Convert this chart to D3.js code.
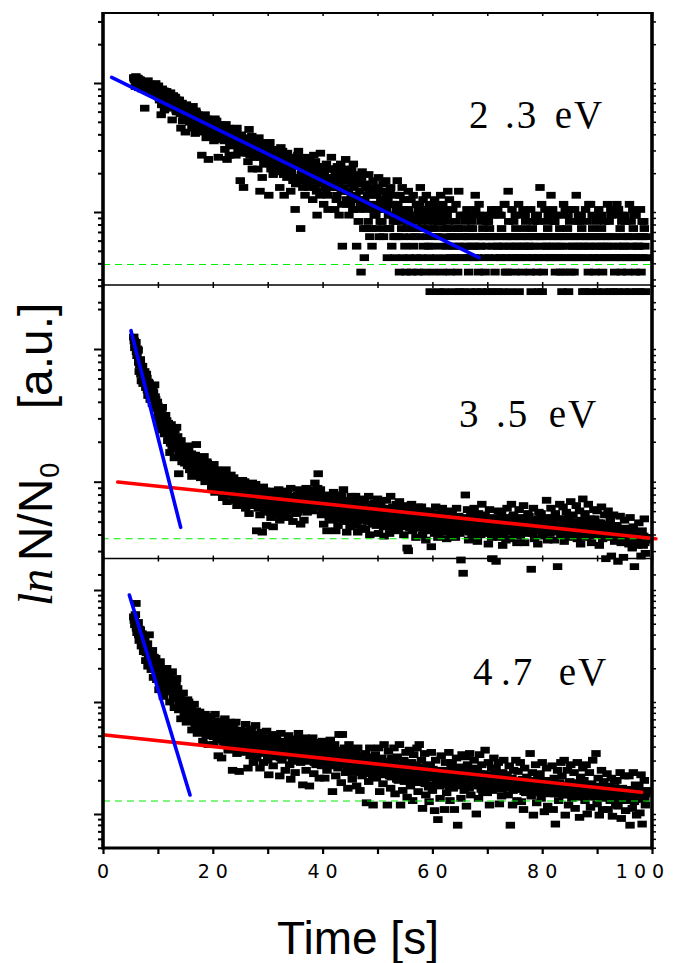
<!DOCTYPE html>
<html><head><meta charset="utf-8">
<script src="https://cdn.jsdelivr.net/npm/d3@7"></script>
<style>body{margin:0;background:#fff}svg{display:block}</style>
</head><body>
<svg id="chart" width="676" height="963"></svg>
<script>
// ---------------- data ----------------
// sampling grid of the three time series (s)
const t0 = 5.6, dt = 0.1;
const timeTicks = [0, 20, 40, 60, 80, 100];
const panelLabels = ["2.3 eV", "3.5 eV", "4.7 eV"];

// 2.3 eV : ion counts per channel (N/N0 = (n - BG_23) / N0_23)
const N0_23 = 99.4, BG_23 = 0.6;
const counts23 = [
110,107,106,94,112,104,103,109,108,92,100,106,105,99,98,90,102,97,96,100,
64,97,101,90,95,99,104,86,92,94,98,88,89,93,96,85,87,91,93,82,
99,89,84,80,92,95,78,74,88,83,57,68,90,77,81,87,62,72,86,79,
86,81,75,70,83,76,66,84,79,64,52,73,80,68,71,78,77,62,60,74,
72,65,60,74,66,58,45,62,70,51,57,67,63,59,42,64,68,53,55,61,
62,58,50,64,57,52,45,60,66,49,53,56,41,61,59,51,48,57,55,46,
55,52,46,48,28,54,51,44,42,50,57,47,38,53,49,41,26,49,44,51,
50,46,41,43,47,49,36,38,53,44,39,51,45,42,27,47,48,37,40,45,
46,41,37,44,42,36,31,39,48,43,26,38,40,45,28,33,44,40,34,42,
42,37,33,39,38,34,28,41,45,35,30,38,36,32,18,36,40,29,31,35,
16,35,38,31,30,37,34,29,25,33,44,36,28,30,33,39,22,32,36,27,
35,32,27,29,31,34,22,28,38,31,15,27,30,35,19,30,33,24,26,33,
33,28,24,30,29,26,14,32,35,24,22,29,27,23,20,31,31,27,25,21,
30,27,22,24,26,29,16,22,32,26,21,30,28,20,14,25,25,28,23,19,
29,25,20,22,24,27,15,21,27,24,18,19,23,26,11,17,26,23,19,28,
30,23,19,26,8,20,22,18,16,24,25,21,14,27,21,19,17,22,24,16,
26,21,18,24,22,19,13,22,28,18,16,25,20,15,10,21,23,20,17,14,
29,20,17,23,21,18,12,21,23,16,15,24,19,14,11,19,22,17,16,22,
27,19,16,22,19,17,11,20,22,13,14,23,18,16,10,18,21,24,15,12,
6,19,22,16,15,21,26,13,12,20,18,15,10,18,20,12,14,22,17,11,
24,16,13,20,17,14,6,18,19,9,11,17,15,12,4,19,21,13,12,8,
5,13,16,11,8,17,14,9,20,15,7,12,12,8,6,16,18,11,10,14,
15,10,8,14,11,16,19,12,7,9,13,15,9,11,17,7,8,13,12,18,
14,11,5,13,10,8,8,15,16,10,6,12,12,9,7,14,5,7,9,11,
18,12,7,10,4,14,11,9,8,16,5,7,13,11,6,13,4,8,9,10,
15,11,5,9,7,13,4,8,10,14,6,10,8,7,5,12,12,9,4,11,
7,12,16,10,5,9,8,13,6,8,4,11,11,14,7,10,9,6,5,12,
3,10,6,11,8,9,4,12,13,8,7,10,5,7,9,11,3,9,6,14,
10,9,4,12,7,8,3,11,5,6,8,10,15,9,6,13,4,5,7,8,
7,11,3,6,5,7,9,12,6,5,4,8,15,6,3,10,8,7,5,10,
3,7,6,9,10,6,5,11,7,5,4,7,8,10,3,6,9,8,6,5,
5,6,14,11,3,7,7,5,4,12,10,6,6,9,3,7,8,10,7,5,
4,7,9,6,3,9,9,5,8,7,7,10,11,6,3,7,10,5,4,11,
7,6,3,11,6,7,10,5,5,10,8,6,3,7,6,12,12,4,5,7,
4,7,15,9,6,5,3,6,7,11,5,7,9,6,4,10,8,5,6,7,
5,12,3,6,7,5,10,7,4,11,6,6,8,10,9,5,5,7,7,6,
6,7,4,11,3,6,8,5,7,9,5,7,10,6,4,10,9,5,3,7,
16,6,7,12,3,7,4,5,5,11,9,6,6,7,8,10,10,6,5,5,
14,7,5,11,7,6,9,9,4,5,6,7,10,10,5,6,8,7,4,5,
3,6,7,12,4,7,11,5,10,6,8,10,3,7,9,5,4,11,5,6,
6,7,4,11,7,5,14,6,5,9,10,7,9,5,6,10,8,6,3,7,
5,6,3,11,7,7,9,5,4,12,6,6,12,7,3,10,8,5,5,6,
4,7,7,9,3,6,10,11,5,7,6,5,8,10,4,6,3,7,9,5,
7,6,5,12,6,7,9,5,3,11,10,6,11,7,3,10,4,5,5,6,
12,7,3,11,5,6,8,5,4,9,10,7,6,6,3,10,9,5,5,7,
4,7,6,12,3,5,9,6,5,11,8,7,10,5,4,10,3,6,6,7,
5,6,3,11,4,7,9,5,7,9,8,6,3,7,5
];

// 3.5 eV : log10(N/N0)
const lg35 = [
0.09,0.06,0.01,0.03,0.05,-0.02,-0.05,0.00,-0.01,-0.10,-0.17,-0.12,-0.08,-0.19,-0.24,-0.15,-0.13,-0.26,-0.20,-0.22,
-0.17,-0.23,-0.29,-0.19,-0.22,-0.31,-0.35,-0.25,-0.26,-0.34,-0.38,-0.29,-0.30,-0.37,-0.41,-0.32,-0.33,-0.40,-0.27,-0.36,
-0.38,-0.45,-0.52,-0.40,-0.43,-0.50,-0.57,-0.46,-0.47,-0.53,-0.61,-0.49,-0.44,-0.58,-0.55,-0.52,-0.64,-0.56,-0.50,-0.60,
-0.54,-0.62,-0.69,-0.56,-0.60,-0.66,-0.78,-0.71,-0.57,-0.64,-0.73,-0.68,-0.63,-0.75,-0.82,-0.61,-0.67,-0.72,-0.59,-0.70,
-0.66,-0.72,-0.94,-0.80,-0.76,-0.70,-0.69,-0.79,-0.85,-0.75,-0.84,-0.81,-0.74,-0.86,-0.82,-0.77,-0.78,-0.83,-0.88,-0.73,
-0.76,-0.83,-0.91,-0.87,-0.82,-0.79,-0.96,-0.90,-0.85,-0.86,-0.89,-0.81,-0.80,-0.92,-0.72,-0.88,-0.93,-0.85,-0.84,-0.95,
-0.84,-0.91,-0.97,-0.87,-0.88,-0.94,-0.93,-0.89,-0.81,-0.95,-1.00,-0.92,-0.90,-0.85,-0.86,-0.98,-0.96,-0.90,-0.92,-0.94,
-0.90,-0.98,-1.05,-0.95,-0.94,-1.01,-0.87,-0.92,-1.08,-1.00,-0.97,-0.96,-0.91,-1.04,-1.02,-0.94,-0.99,-0.97,-0.93,-1.03,
-0.93,-1.00,-1.12,-1.05,-0.99,-0.97,-1.03,-1.08,-0.91,-1.01,-1.15,-0.98,-0.96,-1.09,-1.06,-1.04,-1.02,-0.95,-1.10,-1.07,
-1.02,-1.08,-0.97,-1.03,-1.14,-1.09,-1.06,-1.12,-1.18,-1.05,-1.00,-1.11,-1.10,-1.01,-1.04,-1.13,-1.16,-1.07,-0.99,-1.05,
-1.08,-1.05,-1.00,-1.14,-1.20,-1.09,-1.12,-1.17,-1.03,-1.10,-1.24,-1.07,-1.06,-1.18,-1.15,-1.11,-1.01,-1.08,-1.13,-1.16,
-1.10,-1.15,-1.02,-1.08,-1.37,-1.12,-1.18,-1.20,-1.06,-1.11,-1.25,-1.17,-1.14,-1.09,-1.38,-1.16,-1.04,-1.13,-1.21,-1.07,
-1.18,-1.13,-1.33,-1.21,-1.09,-1.16,-1.23,-1.10,-1.14,-1.19,-1.27,-1.15,-1.07,-1.22,-1.34,-1.17,-1.20,-1.11,-1.12,-1.24,
-1.12,-1.17,-1.23,-1.14,-1.06,-1.20,-1.29,-1.11,-1.16,-1.22,-1.09,-1.19,-1.25,-1.13,-1.18,-1.24,-1.07,-1.15,-1.21,-1.18,
-1.09,-1.15,-1.27,-1.20,-1.18,-1.13,-1.05,-1.17,-1.22,-1.14,-1.30,-1.21,-1.12,-1.16,-1.19,-1.11,-1.24,-1.19,-1.10,-1.23,
-1.14,-1.18,-1.06,-1.12,-1.32,-1.15,-1.20,-1.09,-1.10,-1.17,-1.29,-1.13,-1.16,-1.21,-1.05,-1.14,-1.23,-1.08,-1.11,-1.19,
-1.10,-1.14,-1.18,-1.11,-1.06,-1.20,-1.22,-1.16,-1.13,-1.09,-1.01,-1.17,-1.15,-1.12,-1.08,-1.05,-0.94,-1.15,-1.19,-1.13,
-1.06,-1.17,-1.25,-1.21,-1.14,-1.12,-1.32,-1.19,-1.10,-1.24,-1.20,-1.15,-1.37,-1.22,-1.16,-1.18,-1.27,-1.13,-1.11,-1.23,
-1.16,-1.21,-1.29,-1.18,-1.08,-1.26,-1.23,-1.14,-1.37,-1.22,-1.12,-1.28,-1.33,-1.17,-1.19,-1.24,-1.25,-1.15,-1.10,-1.20,
-1.21,-1.18,-1.06,-1.25,-1.30,-1.20,-1.14,-1.28,-1.38,-1.16,-1.24,-1.22,-1.17,-1.29,-1.34,-1.19,-1.11,-1.23,-1.27,-1.15,
-1.16,-1.22,-1.33,-1.27,-1.11,-1.19,-1.25,-1.30,-1.38,-1.24,-1.20,-1.18,-1.29,-1.26,-1.13,-1.21,-1.35,-1.28,-1.23,-1.17,
-1.14,-1.25,-1.36,-1.20,-1.21,-1.30,-1.27,-1.17,-1.11,-1.26,-1.40,-1.22,-1.18,-1.29,-1.32,-1.19,-1.24,-1.31,-1.16,-1.23,
-1.19,-1.27,-1.33,-1.22,-1.13,-1.29,-1.39,-1.18,-1.24,-1.31,-1.15,-1.25,-1.30,-1.20,-1.21,-1.34,-1.41,-1.23,-1.26,-1.28,
-1.14,-1.22,-1.29,-1.27,-1.23,-1.31,-1.39,-1.20,-1.11,-1.25,-1.34,-1.28,-1.19,-1.23,-1.26,-1.32,-1.37,-1.21,-1.17,-1.30,
-1.23,-1.30,-1.36,-1.25,-1.15,-1.21,-1.32,-1.28,-1.27,-1.34,-1.18,-1.24,-1.40,-1.31,-1.29,-1.26,-1.20,-1.33,-1.50,-1.22,
-1.52,-1.29,-1.25,-1.35,-1.33,-1.24,-1.17,-1.31,-1.37,-1.27,-1.28,-1.23,-1.21,-1.34,-1.42,-1.26,-1.30,-1.32,-1.19,-1.25,
-1.24,-1.31,-1.35,-1.28,-1.19,-1.33,-1.40,-1.25,-1.29,-1.36,-1.22,-1.30,-1.44,-1.26,-1.32,-1.34,-1.27,-1.29,-1.37,-1.23,
-1.22,-1.28,-1.49,-1.31,-1.33,-1.36,-1.26,-1.29,-1.39,-1.25,-1.19,-1.32,-1.30,-1.35,-1.42,-1.27,-1.24,-1.38,-1.34,-1.30,
-1.28,-1.33,-1.20,-1.27,-1.38,-1.31,-1.25,-1.35,-1.33,-1.29,-1.43,-1.37,-1.22,-1.32,-1.36,-1.26,-1.30,-1.34,-1.40,-1.28,
-1.23,-1.31,-1.36,-1.27,-1.29,-1.35,-1.42,-1.32,-1.20,-1.28,-1.34,-1.37,-1.26,-1.33,-1.39,-1.30,-1.59,-1.36,-1.31,-1.29,
-1.69,-1.33,-1.27,-1.30,-1.10,-1.28,-1.37,-1.35,-1.21,-1.32,-1.44,-1.38,-1.31,-1.29,-1.24,-1.36,-1.41,-1.31,-1.34,-1.27,
-1.20,-1.31,-1.36,-1.34,-1.27,-1.29,-1.45,-1.37,-1.24,-1.33,-1.32,-1.28,-1.40,-1.35,-1.17,-1.30,-1.29,-1.36,-1.38,-1.32,
-1.25,-1.33,-1.39,-1.29,-1.30,-1.36,-1.47,-1.31,-1.21,-1.38,-1.34,-1.32,-1.42,-1.35,-1.58,-1.30,-1.27,-1.40,-1.37,-1.34,
-1.60,-1.35,-1.32,-1.30,-1.22,-1.38,-1.42,-1.33,-1.34,-1.29,-1.24,-1.36,-1.48,-1.40,-1.37,-1.31,-1.28,-1.37,-1.44,-1.34,
-1.20,-1.29,-1.38,-1.33,-1.30,-1.27,-1.43,-1.36,-1.17,-1.32,-1.34,-1.26,-1.25,-1.35,-1.40,-1.31,-1.28,-1.37,-1.46,-1.30,
-1.31,-1.34,-1.21,-1.28,-1.41,-1.32,-1.27,-1.37,-1.36,-1.30,-1.18,-1.35,-1.46,-1.33,-1.29,-1.38,-1.39,-1.27,-1.24,-1.36,
-1.26,-1.33,-1.38,-1.30,-1.66,-1.36,-1.32,-1.39,-1.20,-1.31,-1.43,-1.34,-1.29,-1.37,-1.35,-1.32,-1.47,-1.28,-1.23,-1.35,
-1.33,-1.36,-1.24,-1.31,-1.41,-1.34,-1.29,-1.38,-1.37,-1.30,-1.27,-1.35,-1.14,-1.33,-1.44,-1.37,-1.32,-1.28,-1.39,-1.34,
-1.20,-1.30,-1.34,-1.33,-1.27,-1.36,-1.44,-1.29,-1.24,-1.35,-1.38,-1.32,-1.64,-1.28,-1.31,-1.37,-1.17,-1.34,-1.40,-1.31,
-1.28,-1.33,-1.19,-1.36,-1.45,-1.30,-1.32,-1.38,-1.23,-1.31,-1.37,-1.35,-1.26,-1.29,-1.42,-1.34,-1.15,-1.39,-1.34,-1.32,
-1.25,-1.34,-1.38,-1.31,-1.30,-1.37,-1.18,-1.35,-1.43,-1.32,-1.33,-1.39,-1.22,-1.36,-1.47,-1.33,-1.29,-1.40,-1.13,-1.30,
-1.35,-1.32,-1.24,-1.38,-1.42,-1.34,-1.30,-1.36,-1.17,-1.31,-1.39,-1.41,-1.28,-1.35,-1.46,-1.37,-1.33,-1.33,-1.21,-1.39,
-1.28,-1.35,-1.40,-1.33,-1.22,-1.38,-1.36,-1.31,-1.48,-1.39,-1.31,-1.36,-1.19,-1.34,-1.43,-1.40,-1.33,-1.37,-1.25,-1.32,
-1.58,-1.36,-1.32,-1.39,-1.22,-1.34,-1.42,-1.38,-1.28,-1.41,-1.56,-1.35,-1.37,-1.40,-1.25,-1.33,-1.45,-1.37,-1.34,-1.42,
-1.33,-1.39,-1.60,-1.43,-1.42,-1.37,-1.26,-1.41,-1.46,-1.38,-1.36,-1.44,-1.57,-1.40,-1.29,-1.35,-1.45,-1.42,-1.40,-1.37,
-1.36,-1.42,-1.47,-1.39,-1.27,-1.44,-1.40,-1.41,-1.50,-1.45,-1.34,-1.38,-1.64,-1.43,-1.43,-1.46,-1.38,-1.40,-1.48,-1.44,
-1.31,-1.45,-1.44,-1.40,-1.56,-1.47,-1.37,-1.43,-1.48,-1.41,-1.28,-1.46,-1.54,-1.44,-1.42
];

// 4.7 eV : log10(N/N0)
const lg47 = [
-0.24,-0.27,-0.31,-0.22,-0.12,-0.34,-0.38,-0.30,-0.29,-0.40,-0.45,-0.35,-0.36,-0.44,-0.50,-0.39,-0.41,-0.48,-0.55,-0.46,
-0.45,-0.51,-0.63,-0.56,-0.52,-0.48,-0.68,-0.61,-0.40,-0.55,-0.58,-0.62,-0.71,-0.57,-0.54,-0.66,-0.78,-0.60,-0.64,-0.70,
-0.61,-0.68,-0.80,-0.73,-0.70,-0.77,-0.89,-0.66,-0.64,-0.79,-0.85,-0.74,-0.75,-0.83,-0.95,-0.78,-0.72,-0.86,-0.82,-0.76,
-0.70,-0.81,-0.89,-0.76,-0.77,-0.87,-1.00,-0.84,-0.83,-0.91,-0.73,-0.80,-0.95,-0.88,-1.05,-0.93,-0.86,-0.82,-0.79,-0.90,
-0.88,-0.97,-1.07,-1.02,-0.96,-0.94,-1.15,-1.06,-1.01,-0.99,-0.92,-1.05,-1.11,-1.00,-1.04,-1.09,-1.18,-1.03,-0.98,-1.08,
-1.00,-1.09,-1.16,-1.12,-1.05,-1.06,-1.25,-1.17,-1.11,-1.14,-1.02,-1.10,-1.21,-1.19,-1.08,-1.15,-1.28,-1.18,-1.13,-1.20,
-1.09,-1.18,-1.25,-1.21,-1.15,-1.27,-1.35,-1.16,-1.20,-1.24,-1.11,-1.22,-1.30,-1.19,-1.17,-1.28,-1.38,-1.25,-1.23,-1.21,
-1.13,-1.22,-1.29,-1.26,-1.20,-1.31,-1.38,-1.19,-1.11,-1.27,-1.24,-1.23,-1.34,-1.30,-1.48,-1.25,-1.17,-1.32,-1.28,-1.21,
-1.50,-1.27,-1.21,-1.31,-1.36,-1.25,-1.15,-1.33,-1.38,-1.22,-1.24,-1.30,-1.43,-1.26,-1.28,-1.34,-1.18,-1.29,-1.35,-1.40,
-1.61,-1.30,-1.22,-1.34,-1.38,-1.27,-1.18,-1.36,-1.46,-1.32,-1.29,-1.40,-1.62,-1.28,-1.25,-1.35,-1.41,-1.31,-1.33,-1.37,
-1.26,-1.33,-1.45,-1.38,-1.20,-1.31,-1.36,-1.42,-1.59,-1.35,-1.30,-1.29,-1.48,-1.40,-1.24,-1.34,-1.39,-1.44,-1.54,-1.37,
-1.34,-1.39,-1.21,-1.31,-1.50,-1.36,-1.29,-1.44,-1.43,-1.33,-1.59,-1.41,-1.27,-1.37,-1.38,-1.46,-1.54,-1.35,-1.32,-1.40,
-1.38,-1.42,-1.26,-1.35,-1.52,-1.47,-1.65,-1.40,-1.32,-1.37,-1.45,-1.49,-1.29,-1.39,-1.57,-1.44,-1.41,-1.34,-1.36,-1.46,
-1.31,-1.40,-1.47,-1.43,-1.38,-1.36,-1.66,-1.50,-1.28,-1.39,-1.52,-1.46,-1.42,-1.41,-1.35,-1.48,-1.61,-1.37,-1.45,-1.44,
-1.41,-1.45,-1.30,-1.39,-1.56,-1.48,-1.69,-1.43,-1.36,-1.53,-1.49,-1.42,-1.38,-1.47,-1.63,-1.40,-1.33,-1.50,-1.52,-1.44,
-1.28,-1.39,-1.43,-1.46,-1.54,-1.42,-1.35,-1.51,-1.74,-1.44,-1.47,-1.40,-1.32,-1.49,-1.61,-1.45,-1.41,-1.53,-1.50,-1.38,
-1.75,-1.47,-1.38,-1.43,-1.52,-1.50,-1.32,-1.41,-1.64,-1.54,-1.45,-1.48,-1.56,-1.44,-1.36,-1.51,-1.49,-1.42,-1.68,-1.46,
-1.41,-1.48,-1.57,-1.44,-1.35,-1.52,-1.50,-1.46,-1.68,-1.42,-1.38,-1.55,-1.61,-1.49,-1.45,-1.43,-1.54,-1.47,-1.34,-1.51,
-1.47,-1.50,-1.80,-1.46,-1.54,-1.57,-1.38,-1.48,-1.66,-1.53,-1.43,-1.45,-1.59,-1.52,-1.29,-1.49,-1.51,-1.56,-1.72,-1.44,
-1.29,-1.44,-1.52,-1.49,-1.41,-1.55,-1.63,-1.46,-1.47,-1.58,-1.77,-1.51,-1.38,-1.48,-1.57,-1.53,-1.45,-1.60,-1.69,-1.50,
-1.43,-1.52,-1.63,-1.57,-1.50,-1.46,-1.75,-1.60,-1.41,-1.53,-1.56,-1.49,-1.79,-1.58,-1.48,-1.55,-1.66,-1.51,-1.54,-1.61,
-1.60,-1.53,-1.46,-1.58,-1.90,-1.62,-1.52,-1.50,-1.71,-1.57,-1.41,-1.54,-1.64,-1.59,-1.49,-1.66,-1.92,-1.55,-1.56,-1.51,
-1.47,-1.56,-1.68,-1.60,-1.54,-1.52,-1.41,-1.63,-1.80,-1.58,-1.61,-1.55,-1.50,-1.65,-1.73,-1.53,-1.38,-1.59,-1.57,-1.62,
-1.54,-1.58,-1.92,-1.63,-1.44,-1.55,-1.66,-1.60,-1.77,-1.67,-1.50,-1.57,-1.61,-1.64,-1.41,-1.52,-1.82,-1.61,-1.57,-1.69,
-1.49,-1.59,-1.70,-1.62,-1.38,-1.56,-1.92,-1.66,-1.60,-1.58,-1.79,-1.64,-1.52,-1.71,-1.65,-1.57,-1.45,-1.61,-1.85,-1.68,
-1.61,-1.63,-1.43,-1.58,-1.75,-1.66,-1.54,-1.60,-1.88,-1.70,-1.47,-1.56,-1.68,-1.64,-1.57,-1.72,-1.41,-1.59,-1.80,-1.65,
-1.38,-1.60,-1.63,-1.66,-1.52,-1.58,-1.95,-1.69,-1.72,-1.62,-1.46,-1.73,-1.83,-1.59,-1.57,-1.65,-1.67,-1.76,-1.89,-1.61,
-1.56,-1.64,-1.45,-1.68,-1.79,-1.60,-1.65,-1.74,-1.97,-1.66,-1.52,-1.62,-1.71,-1.70,-2.05,-1.63,-1.61,-1.75,-1.86,-1.67,
-1.48,-1.65,-1.74,-1.62,-1.61,-1.70,-1.96,-1.66,-1.54,-1.73,-1.81,-1.63,-1.67,-1.69,-1.45,-1.76,-1.88,-1.64,-1.59,-1.71,
-1.54,-1.67,-1.77,-1.64,-1.96,-1.72,-1.63,-1.68,-1.50,-1.61,-2.10,-1.75,-1.70,-1.66,-1.58,-1.73,-1.86,-1.69,-1.47,-1.62,
-1.63,-1.70,-1.79,-1.67,-1.49,-1.74,-1.93,-1.65,-1.56,-1.71,-1.72,-1.77,-1.46,-1.68,-1.83,-1.62,-1.66,-1.73,-1.59,-1.69,
-1.52,-1.69,-1.74,-1.72,-2.00,-1.66,-1.61,-1.75,-1.86,-1.70,-1.47,-1.64,-1.68,-1.78,-1.56,-1.71,-1.80,-1.67,-1.64,-1.73,
-1.43,-1.68,-1.66,-1.73,-1.81,-1.70,-1.54,-1.65,-1.92,-1.76,-1.71,-1.69,-1.59,-1.74,-1.79,-1.67,-1.50,-1.72,-1.63,-1.75,
-1.59,-1.71,-1.77,-1.68,-1.54,-1.75,-1.91,-1.72,-1.69,-1.66,-1.84,-1.78,-1.63,-1.70,-1.52,-1.73,-1.74,-1.69,-1.65,-1.76,
-1.65,-1.74,-1.83,-1.70,-1.57,-1.77,-2.10,-1.73,-1.71,-1.68,-1.92,-1.79,-1.61,-1.72,-1.78,-1.75,-1.52,-1.71,-1.88,-1.76,
-1.62,-1.72,-1.77,-1.76,-1.54,-1.70,-1.89,-1.78,-1.69,-1.73,-1.96,-1.80,-1.59,-1.71,-1.81,-1.75,-1.67,-1.79,-1.74,-1.73,
-1.70,-1.74,-1.46,-1.71,-1.84,-1.77,-1.63,-1.73,-2.01,-1.80,-1.75,-1.72,-1.56,-1.76,-1.90,-1.78,-1.67,-1.75,-1.79,-1.81,
-1.64,-1.75,-1.86,-1.72,-1.54,-1.79,-1.77,-1.76,-1.98,-1.73,-1.70,-1.81,-1.59,-1.74,-1.93,-1.78,-1.74,-1.77,-1.82,-1.72,
-1.74,-1.77,-1.57,-1.80,-1.96,-1.74,-1.68,-1.82,-2.09,-1.76,-1.79,-1.73,-1.61,-1.81,-1.88,-1.78,-1.72,-1.75,-1.54,-1.79,
-1.66,-1.78,-1.83,-1.74,-1.52,-1.81,-2.01,-1.77,-1.76,-1.83,-1.61,-1.75,-1.92,-1.79,-1.71,-1.76,-1.56,-1.82,-1.86,-1.73,
-1.79,-1.76,-1.63,-1.81,-1.95,-1.78,-1.72,-1.74,-1.54,-1.82,-1.85,-1.79,-2.03,-1.75,-1.67,-1.83,-1.77,-1.80,-1.59,-1.77,
-1.70,-1.80,-1.88,-1.77,-1.56,-1.84,-2.00,-1.79,-1.77,-1.75,-1.63,-1.82,-1.94,-1.78,-1.73,-1.81,-1.52,-1.76,-1.83,-1.85,
-1.75,-1.79,-1.46,-1.82,-1.91,-1.77,-1.68,-1.84,-2.01,-1.80,-1.80,-1.76,-1.61,-1.86,-1.96,-1.81,-1.71,-1.78,-1.85,-1.83,
-1.80,-1.82,-1.64,-1.78,-1.96,-1.85,-1.75,-1.81,-1.88,-1.79,-1.68,-1.86,-2.02,-1.80,-1.83,-1.84,-1.71,-1.77,-1.92,-1.83,
-1.70,-1.84,-1.93,-1.80,-1.83,-1.87,-1.63,-1.82,-2.04,-1.78,-1.77,-1.85,-1.88,-1.81,-1.66,-1.86,-1.97,-1.83,-1.79,-1.79,
-1.86,-1.81,-1.66,-1.85,-2.10,-1.79,-1.78,-1.88,-1.95,-1.83,-1.63,-1.80,-1.89,-1.87,-1.74,-1.84,-2.01,-1.82,-1.82,-1.86,
-1.75,-1.84,-1.99,-1.81,-1.65,-1.87,-2.09,-1.83,-1.85,-1.80,-1.70,-1.86,-1.92,-1.82,-1.79
];

// fitted lines: [t (s), log10(N/N0)]
const blueFit23 = [[1.58, 0.044], [68.5, -1.354]];
const blueFit35 = [[5.1, 0.138], [14.15, -1.344]];
const redFit35  = [[2.68, -1.002], [100.7, -1.430]];
const blueFit47 = [[4.8, -0.045], [15.85, -1.830]];
const redFit47  = [[0.36, -1.295], [98.1, -1.806]];
// background levels (log10 N/N0) and their time span
const green23 = [[0, -1.407], [100, -1.407]];
const green35 = [[-0.25, -1.430], [100, -1.430]];
const green47 = [[0, -1.884], [100, -1.884]];

// ---------------- layout ----------------
const svg = d3.select("#chart");
const X0 = 103, X1 = 652;
const x = d3.scaleLinear().domain([0, 100]).range([X0, X1]);

const panels = [
  { top: 13, bottom: 285,
    y: d3.scaleLog().domain([0.1, 1]).range([212, 83]), tickDom: [0.02, 3.45],
    values: counts23.map(n => (n - BG_23) / N0_23),
    lines: [{d: blueFit23, c: "#0000ff"}], green: green23,
    lab: {base: 128, parts: [["2", 469], [".3", 505], [" eV", 543]]} },
  { top: 285, bottom: 558,
    y: d3.scaleLog().domain([0.1, 1]).range([481.7, 349]), tickDom: [0.02, 3.0],
    values: lg35.map(v => Math.pow(10, v)),
    lines: [{d: redFit35, c: "#ff0000"}, {d: blueFit35, c: "#0000ff"}], green: green35,
    lab: {base: 427, parts: [["3", 459], [".5", 496], [" eV", 537]]} },
  { top: 558.5, bottom: 848,
    y: d3.scaleLog().domain([0.01, 1]).range([814, 590]), tickDom: [0.005, 1.9],
    values: lg47.map(v => Math.pow(10, v)),
    lines: [{d: redFit47, c: "#ff0000"}, {d: blueFit47, c: "#0000ff"}], green: green47,
    lab: {base: 685, parts: [["4", 473], [".7", 501], [" eV", 547]]} }
];

const MW = 9.4, MH = 6.8;

panels.forEach((p, k) => {
  const g = svg.append("g");
  const tv = d3.scaleLog().domain(p.tickDom).ticks();
  const major = tv.filter(v => Math.abs(Math.log10(v) - Math.round(Math.log10(v))) < 1e-6);
  const minor = tv.filter(v => !major.includes(v));
  const axL1 = d3.axisLeft(p.y).tickValues(major).tickSize(9).tickFormat("");
  const axL2 = d3.axisLeft(p.y).tickValues(minor).tickSize(5).tickFormat("");
  const axR = d3.axisRight(p.y).tickValues(tv).tickSize(4).tickFormat("");
  [[axL1, X0, 2], [axL2, X0, 2], [axR, X1, 1.5]].forEach(([ax, px, w]) => {
    const a = g.append("g").attr("transform", `translate(${px},0)`).call(ax);
    a.select(".domain").remove();
    a.selectAll("line").attr("stroke", "#000").attr("stroke-width", w);
  });

  // markers
  g.append("g").selectAll("rect").data(p.values).join("rect")
    .attr("x", (d, i) => x(t0 + i * dt) - MW / 2)
    .attr("y", d => p.y(d) - MH / 2)
    .attr("width", MW).attr("height", MH)
    .attr("fill", "#000");

  const line = d3.line().x(d => x(d[0])).y(d => p.y(Math.pow(10, d[1])));
  g.append("path").attr("d", line(p.green)).attr("fill", "none")
    .attr("stroke", "#00ee00").attr("stroke-width", 1.1).attr("stroke-dasharray", "7,5");
  p.lines.forEach(l => {
    g.append("path").attr("d", line(l.d)).attr("fill", "none")
      .attr("stroke", l.c).attr("stroke-width", 3.6).attr("stroke-linecap", "round");
  });

  const txt = g.append("text").attr("y", p.lab.base)
    .style("font-family", "'Liberation Serif','Times New Roman',serif")
    .style("font-size", "39px").attr("fill", "#000");
  p.lab.parts.forEach(([s, px]) => txt.append("tspan").attr("x", px).style("letter-spacing", "2px").text(s));
});

// frame
const frame = svg.append("g").attr("stroke", "#000").attr("fill", "none");
frame.append("line").attr("x1", X0).attr("x2", X1).attr("y1", 13).attr("y2", 13).attr("stroke-width", 2);
frame.append("line").attr("x1", X0).attr("x2", X1).attr("y1", 285).attr("y2", 285).attr("stroke-width", 1.6);
frame.append("line").attr("x1", X0).attr("x2", X1).attr("y1", 558.5).attr("y2", 558.5).attr("stroke-width", 1.6);
frame.append("line").attr("x1", X0).attr("x2", X1).attr("y1", 848).attr("y2", 848).attr("stroke-width", 3);
frame.append("line").attr("x1", X0).attr("x2", X0).attr("y1", 12).attr("y2", 849.5).attr("stroke-width", 3.6);
frame.append("line").attr("x1", X1).attr("x2", X1).attr("y1", 12).attr("y2", 849.5).attr("stroke-width", 3.6);

// time ticks on every horizontal border
const tenTicks = d3.range(0, 101, 10);
function tAxis(gen, yPos, size, w) {
  const a = svg.append("g").attr("transform", `translate(0,${yPos})`)
    .call(gen(x).tickValues(tenTicks).tickSize(size).tickFormat(""));
  a.select(".domain").remove();
  a.selectAll("line").attr("stroke", "#000").attr("stroke-width", w);
}
tAxis(d3.axisBottom, 13, 3, 1.5);
tAxis(d3.axisTop, 285, 3, 1.5);
tAxis(d3.axisBottom, 285, 3, 1.5);
tAxis(d3.axisTop, 558.5, 3, 1.5);
tAxis(d3.axisBottom, 558.5, 3, 1.5);
tAxis(d3.axisBottom, 848, 6, 2.2);

// tick labels
const LS = 6;
svg.append("g").selectAll("text").data(timeTicks).join("text")
  .attr("x", d => (d === 100 ? x(d) - 12 : x(d)) + LS / 2).attr("y", 878)
  .attr("text-anchor", "middle")
  .style("font-family", "'DejaVu Sans',sans-serif").style("font-size", "19px")
  .style("letter-spacing", LS + "px").attr("fill", "#000")
  .text(d => d);

// axis titles
svg.append("text").attr("x", 358).attr("y", 954).attr("text-anchor", "middle")
  .style("font-family", "'Liberation Sans',Arial,sans-serif").style("font-size", "46px")
  .text("Time [s]");

const yl = svg.append("text").attr("transform", "translate(52,606) rotate(-90)")
  .attr("text-anchor", "start").style("font-size", "48px")
  .style("font-family", "'Liberation Sans',Arial,sans-serif");
yl.append("tspan").style("font-family", "'Liberation Serif',serif").style("font-style", "italic").text("ln");
yl.append("tspan").attr("dx", -6).text(" N/N");
yl.append("tspan").style("font-size", "27px").attr("dx", 1).attr("dy", 7).text("0");
yl.append("tspan").attr("dy", -7).attr("dx", 40).text(" [a.u.]");
</script>
</body></html>
